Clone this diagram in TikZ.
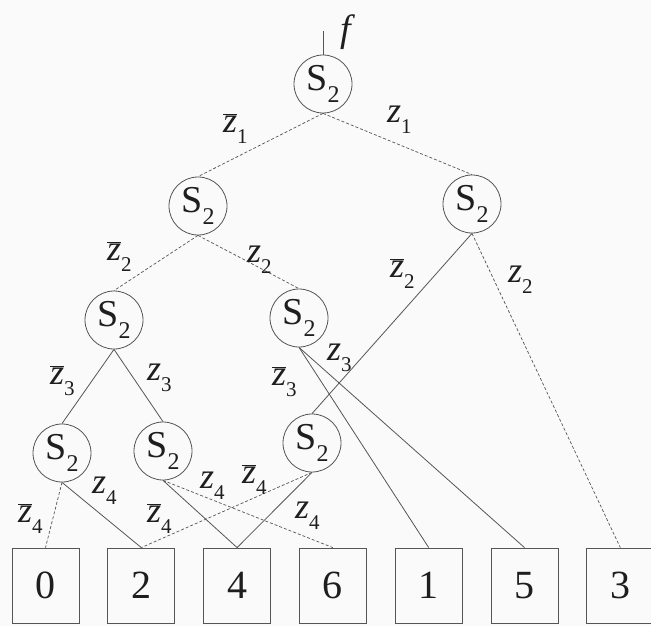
\documentclass[tikz,border=0pt]{standalone}
\usepackage{fix-cm}
\usepackage{fontspec}
\setmainfont{Liberation Serif}
\usetikzlibrary{positioning}
\definecolor{Ink}{RGB}{30,30,30}
\definecolor{Wire}{RGB}{85,85,85}
\definecolor{Paper}{RGB}{250,250,250}
\newcommand{\lowidx}[2]{\raisebox{-.32em}{\fontsize{#1}{#1}\selectfont #2}}
\newcommand{\Sn}{S\lowidx{24}{2}}
\newcommand{\zp}[1]{\textit{z}\lowidx{21}{#1}}
\newcommand{\zn}[1]{$\overline{\mbox{\textit{z}}}$\lowidx{21}{#1}}

\begin{document}
\begin{tikzpicture}[x=1pt,y=-1pt,node distance=28pt,
 s/.style={circle,draw=Wire,line width=.8pt,minimum size=58pt,inner sep=0pt,text=Ink,font=\fontsize{38}{38}\selectfont},
 t/.style={draw=Wire,line width=.8pt,minimum width=67pt,minimum height=75pt,inner sep=0pt,text=Ink,font=\fontsize{40}{40}\selectfont},
 sol/.style={Wire,line width=.8pt},
 dsh/.style={Wire,line width=.7pt,dash pattern=on 3pt off 2pt},
 lb/.style={anchor=base west,inner sep=0pt,text=Ink,font=\fontsize{36}{36}\selectfont}]
\fill[Paper] (0,0) rectangle (651,626);
\useasboundingbox (0,0) rectangle (651,626);
% decision nodes
\node[s] (n0) at (323,84) {\Sn};
\node[s] (n1) at (198,206) {\Sn};
\node[s] (n2) at (472,204) {\Sn};
\node[s] (n3) at (114,320) {\Sn};
\node[s] (n4) at (299,318) {\Sn};
\node[s] (n5) at (62,453) {\Sn};
\node[s] (n6) at (163,451) {\Sn};
\node[s] (n7) at (312,443) {\Sn};
% terminals
\node[t] (t0) at (45.5,585.5) {0};
\node[t,right=of t0] (t2) {2};
\node[t,right=of t2] (t4) {4};
\node[t,right=of t4] (t6) {6};
\node[t,right=of t6] (t1) {1};
\node[t,right=of t1] (t5) {5};
\node[t,right=of t5] (t3) {3};
% function input
\coordinate (fin) at (323,31);
\node[lb,font=\fontsize{38}{38}\selectfont] (fl) at (340,42) {\textit{f}};
\draw[sol] (fin) -- (n0.north);
% edges
\draw[dsh] (n0.south) -- (n1.north);
\draw[dsh] (n0.south) -- (n2.north);
\draw[dsh] (n1.south) -- (n3.north);
\draw[dsh] (n1.south) -- (n4.north);
\draw[sol] (n2.south) -- (n7.north);
\draw[dsh] (n2.south) -- (t3.north);
\draw[sol] (n3.south) -- (n5.north);
\draw[sol] (n3.south) -- (n6.north);
\draw[sol] (n4.south) -- (t1.north);
\draw[sol] (n4.south) -- (t5.north);
\draw[dsh] (n5.south) -- (t0.north);
\draw[sol] (n5.south) -- (t2.north);
\draw[sol] (n6.south) -- (t4.north);
\draw[dsh] (n6.south) -- (t6.north);
\draw[dsh] (n7.south) -- (t2.north);
\draw[sol] (n7.south) -- (t4.north);
% edge labels
\node[lb] (l1a) at (223,132) {\zn{1}};
\node[lb] (l1b) at (387,122) {\zp{1}};
\node[lb] (l2a) at (107,260) {\zn{2}};
\node[lb] (l2b) at (247,262) {\zp{2}};
\node[lb] (l2c) at (390,277) {\zn{2}};
\node[lb] (l2d) at (508,282) {\zp{2}};
\node[lb] (l3a) at (50,384) {\zn{3}};
\node[lb] (l3b) at (147,380) {\zp{3}};
\node[lb] (l3c) at (272,385) {\zn{3}};
\node[lb] (l3d) at (327,360) {\zp{3}};
\node[lb] (l4a) at (18,522) {\zn{4}};
\node[lb] (l4b) at (92,493) {\zp{4}};
\node[lb] (l4c) at (147,522) {\zn{4}};
\node[lb] (l4d) at (200,488) {\zp{4}};
\node[lb] (l4e) at (242,483) {\zn{4}};
\node[lb] (l4f) at (295,518) {\zp{4}};
\end{tikzpicture}
\end{document}
